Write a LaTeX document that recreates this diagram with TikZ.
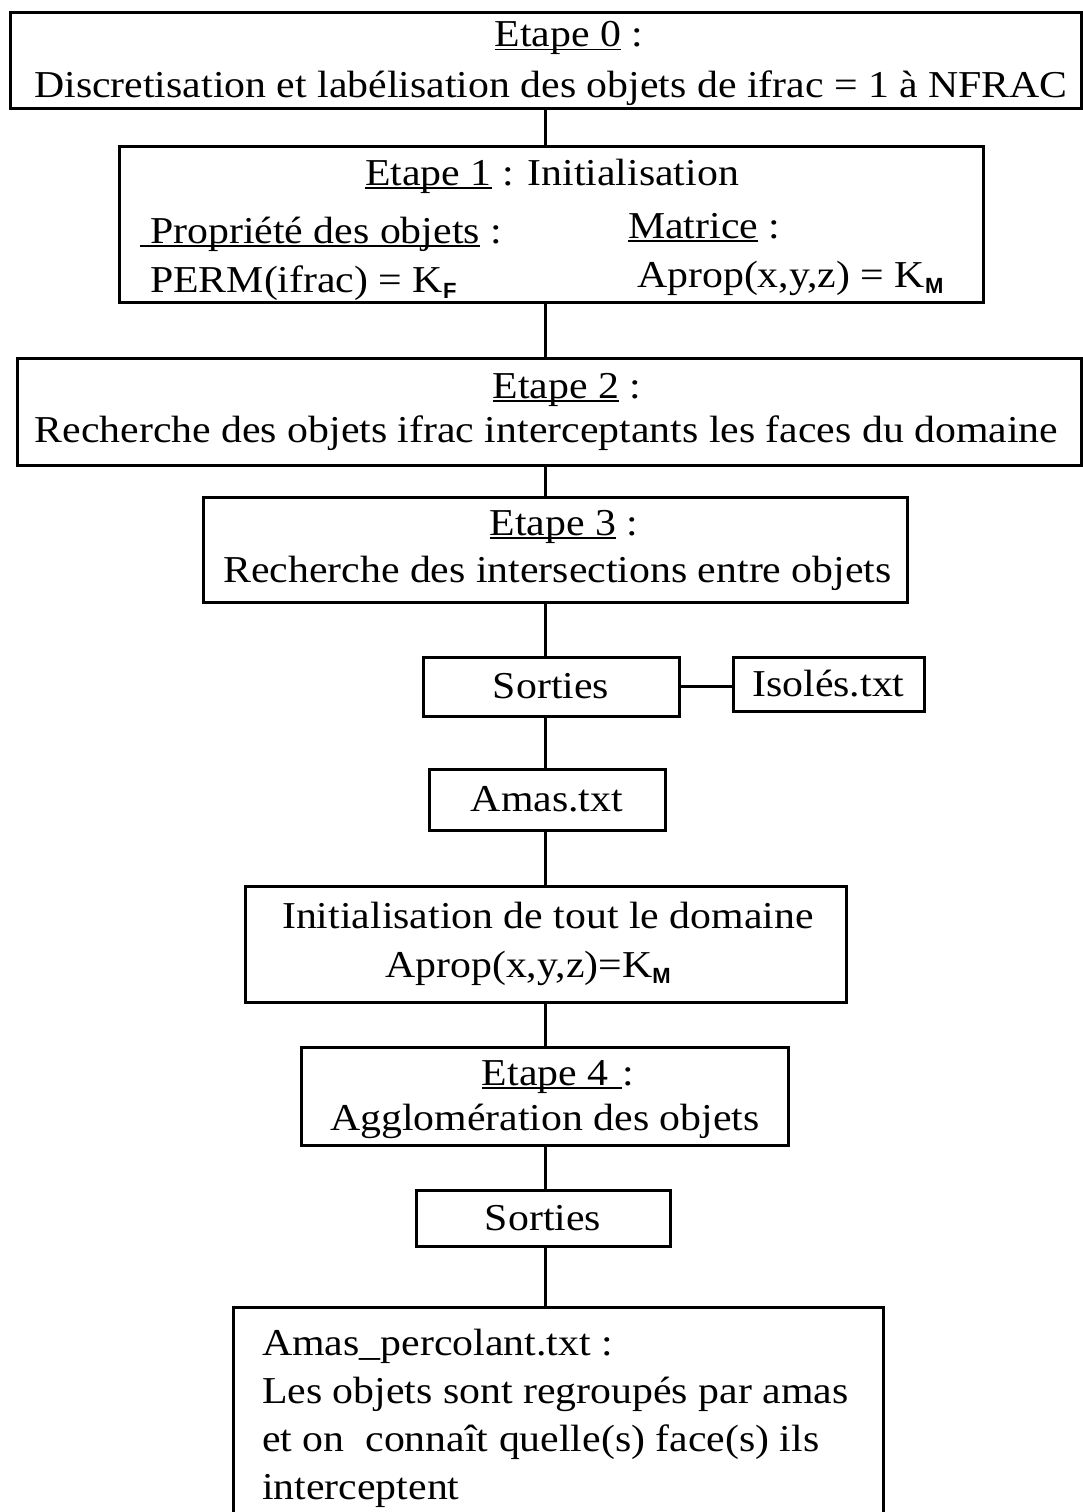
\documentclass[tikz,border=0pt]{standalone}
\usepackage{fontspec}
\setmainfont[FakeStretch=1.1]{Liberation Serif}
\setsansfont{Liberation Sans}
\newcommand\fs{\fontsize{38}{47}\selectfont}
\newcommand\ulx[1]{\setbox0=\hbox{#1}\rlap{\rule[-3.5pt]{\wd0}{1.6pt}}\box0\relax}
\newcommand\subK[1]{K\raisebox{-6pt}{\fontsize{22}{22}\selectfont\sffamily\bfseries #1}}
\begin{document}
\begin{tikzpicture}[x=1pt,y=-1pt,
  box/.style={draw, line width=3pt, inner sep=0pt, font=\fs},
  txt/.style={inner sep=0pt, font=\fs, anchor=base},
  txtl/.style={inner sep=0pt, font=\fs, anchor=base west},
  link/.style={line width=3pt}]
\useasboundingbox (0,0) rectangle (1083,1512);
\fill[white] (0,0) rectangle (1083,1512);
\clip (0,0) rectangle (1083,1512);
\coordinate (sp) at (545,0);
% boxes
\node[box, minimum width=1071pt, minimum height=95pt]  (b0)   at (545.5,60.5) {};
\node[box, minimum width=864pt,  minimum height=156pt] (b1)   at (551,224) {};
\node[box, minimum width=1064pt, minimum height=107pt] (b2)   at (549,411.5) {};
\node[box, minimum width=704pt,  minimum height=105pt] (b3)   at (555,549.5) {};
\node[box, minimum width=256pt,  minimum height=59pt]  (s1)   at (551,686.5) {Sorties};
\node[box, minimum width=191pt,  minimum height=54pt]  (iso)  at (828.5,684) {Isolés.txt};
\node[box, minimum width=236pt,  minimum height=61pt]  (amas) at (547,799.5) {Amas.txt};
\node[box, minimum width=601pt,  minimum height=116pt] (init) at (545.5,944) {};
\node[box, minimum width=487pt,  minimum height=98pt]  (e4)   at (544.5,1096) {};
\node[box, minimum width=254pt,  minimum height=56pt]  (s2)   at (543,1218) {Sorties};
\node[box, minimum width=650pt,  minimum height=240pt] (last) at (558,1427) {};
% texts
\node[txt] (t0a) at (569,47) {\ulx{Etape 0} :};
\node[txt] (t0b) at (551,97) {Discretisation et labélisation des objets de ifrac = 1 à NFRAC};
\node[txt] (t1a) at (552,185) {\ulx{Etape 1} : Initialisation};
\node[txtl] (t1b) at (140,243) {\ulx{\hspace{10pt}Propriété des objets} :};
\node[txtl] (t1c) at (628,238) {\ulx{Matrice} :};
\node[txtl] (t1d) at (150,292) {PERM(ifrac) = \subK{F}};
\node[txtl] (t1e) at (637,287) {Aprop(x,y,z) = \subK{M}};
\node[txt] (t2a) at (567,398) {\ulx{Etape 2} :};
\node[txt] (t2b) at (546.5,442) {Recherche des objets ifrac interceptants les faces du domaine};
\node[txt] (t3a) at (564,535) {\ulx{Etape 3} :};
\node[txt] (t3b) at (557.5,582) {Recherche des intersections entre objets};
\node[txt] (tia) at (548,928) {Initialisation de tout le domaine};
\node[txt] (tib) at (528,977) {Aprop(x,y,z)=\subK{M}};
\node[txt] (t4a) at (558,1085) {\ulx{Etape 4\hspace{14pt}}:};
\node[txt] (t4b) at (545,1130) {Agglomération des objets};
\node[txtl] (tla) at (262,1355) {Amas\_percolant.txt :};
\node[txtl] (tlb) at (262,1403) {Les objets sont regroupés par amas};
\node[txtl] (tlc) at (262,1451) {et on\ \ connaît quelle(s) face(s) ils};
\node[txtl] (tld) at (262,1499) {interceptent};
% connectors
\draw[link] (b0.south -| sp) -- (b1.north -| sp);
\draw[link] (b1.south -| sp) -- (b2.north -| sp);
\draw[link] (b2.south -| sp) -- (b3.north -| sp);
\draw[link] (b3.south -| sp) -- (s1.north -| sp);
\draw[link] (s1.east) -- (iso.west |- s1.east);
\draw[link] (s1.south -| sp) -- (amas.north -| sp);
\draw[link] (amas.south -| sp) -- (init.north -| sp);
\draw[link] (init.south -| sp) -- (e4.north -| sp);
\draw[link] (e4.south -| sp) -- (s2.north -| sp);
\draw[link] (s2.south -| sp) -- (last.north -| sp);
\end{tikzpicture}
\end{document}
